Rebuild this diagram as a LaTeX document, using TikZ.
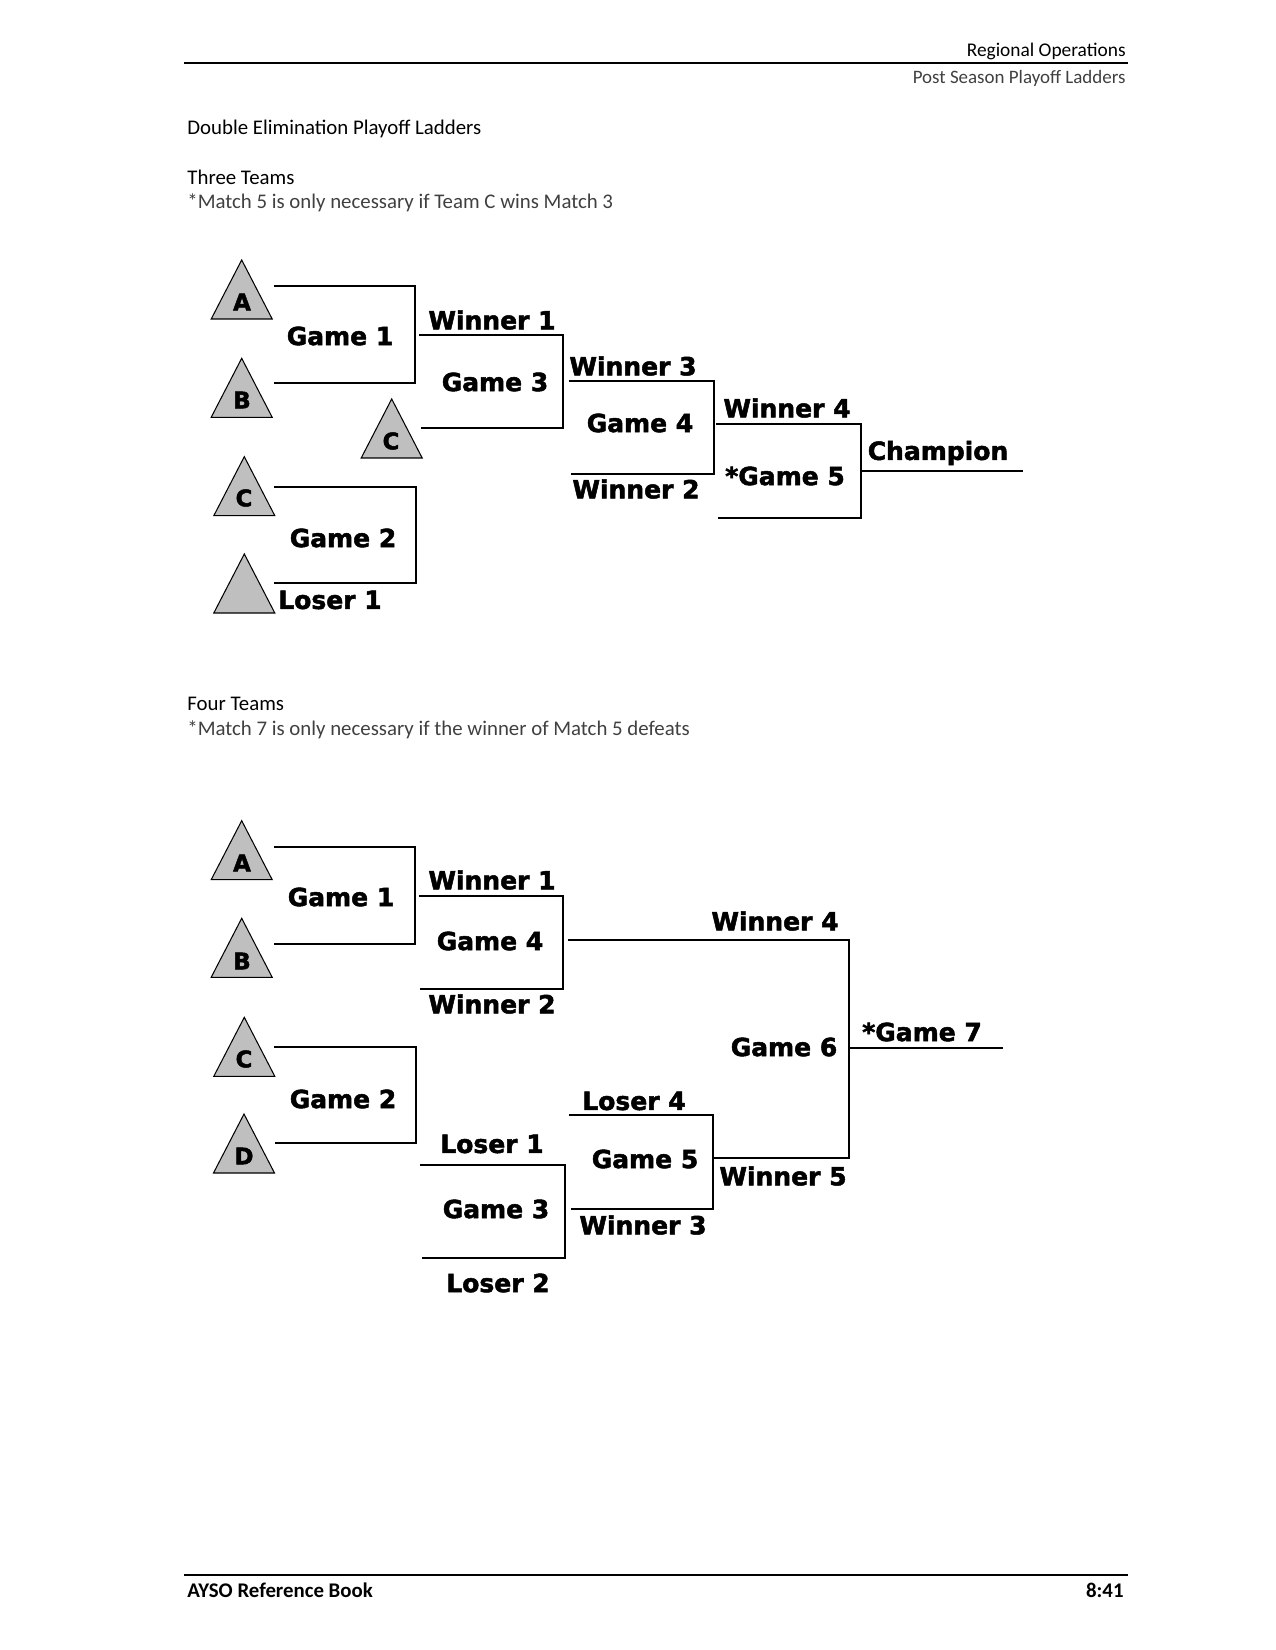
\documentclass[tikz,border=0pt]{standalone}
\usepackage{fontspec}
\setmainfont{Carlito}
\newfontfamily\lblfont[BoldFeatures={FakeBold=2}]{DejaVu Sans}
\begin{document}
\begin{tikzpicture}[x=0.48pt,y=-0.48pt,
  lbl/.style={font=\lblfont\bfseries\fontsize{12}{14}\selectfont, inner sep=0pt},
  tri/.style={draw=black, fill=black!25, line width=0.5pt, line join=miter},
  tletter/.style={font=\lblfont\bfseries\fontsize{11}{12}\selectfont, inner sep=0pt},
  brk/.style={draw=black, line width=0.75pt},
  hdr/.style={font=\fontsize{10}{12}\selectfont, inner sep=0pt},
  lighttxt/.style={hdr, text=black!75},
  teamtri/.pic={\draw[tri] (0,0) -- (-30.5,59) -- (30.5,59) -- cycle;}
]
\useasboundingbox (0,0) rectangle (1275,1650);

% ---------- header / footer ----------
\node[hdr, anchor=east, font=\fontsize{9.3}{11}\selectfont] (hreg) at (1126,51) {Regional Operations};
\coordinate (hl1) at (184,63);
\coordinate (hl2) at (1128,63);
\draw[line width=1.1pt] (hl1) -- (hl2);
\node[lighttxt, anchor=east, font=\fontsize{9.1}{11}\selectfont] (hpost) at (1126,78) {Post Season Playoff Ladders};
\node[hdr, anchor=west] (title) at (187,129) {Double Elimination Playoff Ladders};
\node[hdr, anchor=west] (three) at (187,177) {Three Teams};
\node[lighttxt, anchor=west] (note3) at (187,203) {*Match 5 is only necessary if Team C wins Match 3};
\node[hdr, anchor=west] (four) at (187,704) {Four Teams};
\node[lighttxt, anchor=west] (note4) at (187,730) {*Match 7 is only necessary if the winner of Match 5 defeats};
\coordinate (fl1) at (184,1575);
\coordinate (fl2) at (1128,1575);
\draw[line width=0.6pt] (fl1) -- (fl2);
\node[hdr, anchor=west, font=\bfseries\fontsize{10}{12}\selectfont] (foot) at (187,1590) {AYSO Reference Book};
\node[hdr, anchor=east, font=\bfseries\fontsize{10}{12}\selectfont] (page) at (1124,1590) {8:41};

% ---------- three teams ----------
\pic at (241.7,260) {teamtri};   \node[tletter] (tA3) at (242,302) {A};
\pic at (241.7,358.3) {teamtri}; \node[tletter] (tB3) at (242,400) {B};
\pic at (391.7,399) {teamtri};   \node[tletter] (tCm3) at (391,441) {C};
\pic at (244.3,456.7) {teamtri}; \node[tletter] (tC3) at (244,498) {C};
\pic at (244.3,554) {teamtri};

\coordinate (a1) at (274,286); \coordinate (a2) at (415,286);
\coordinate (a3) at (415,383); \coordinate (a4) at (274,383);
\draw[brk] (a1) -- (a2) -- (a3) -- (a4);

\coordinate (b1) at (419,335); \coordinate (b2) at (563,335);
\coordinate (b3) at (563,428); \coordinate (b4) at (421,428);
\draw[brk] (b1) -- (b2) -- (b3) -- (b4);

\coordinate (c1) at (569,381); \coordinate (c2) at (714,381);
\coordinate (c3) at (714,474); \coordinate (c4) at (571,474);
\draw[brk] (c1) -- (c2) -- (c3) -- (c4);

\coordinate (d1) at (716,424); \coordinate (d2) at (861,424);
\coordinate (d3) at (861,518); \coordinate (d4) at (718,518);
\draw[brk] (d1) -- (d2) -- (d3) -- (d4);

\coordinate (e1) at (861,471); \coordinate (e2) at (1023,471);
\draw[brk] (e1) -- (e2);

\coordinate (f1) at (274,487); \coordinate (f2) at (416,487);
\coordinate (f3) at (416,583); \coordinate (f4) at (274,583);
\draw[brk] (f1) -- (f2) -- (f3) -- (f4);

\node[lbl] (g13) at (340,336) {Game 1};
\node[lbl] (w13) at (492,320) {Winner 1};
\node[lbl] (g33) at (495,382) {Game 3};
\node[lbl] (w33) at (633,366) {Winner 3};
\node[lbl] (g43) at (640,423) {Game 4};
\node[lbl] (w23) at (636,489) {Winner 2};
\node[lbl] (w43) at (787,408) {Winner 4};
\node[lbl] (g53) at (785,476) {*Game 5};
\node[lbl] (champ) at (938,453) {Champion};
\node[lbl] (g23) at (343,538) {Game 2};
\node[lbl] (l13) at (330,600) {Loser 1};

% ---------- four teams ----------
\pic at (241.7,820.7) {teamtri}; \node[tletter] (tA4) at (242,863) {A};
\pic at (241.7,918.3) {teamtri}; \node[tletter] (tB4) at (242,961) {B};
\pic at (244.3,1017.3) {teamtri}; \node[tletter] (tC4) at (244,1059) {C};
\pic at (244,1114) {teamtri};    \node[tletter] (tD4) at (244,1156) {D};

\coordinate (p1) at (274,847); \coordinate (p2) at (415,847);
\coordinate (p3) at (415,944); \coordinate (p4) at (274,944);
\draw[brk] (p1) -- (p2) -- (p3) -- (p4);

\coordinate (q1) at (419,896); \coordinate (q2) at (563,896);
\coordinate (q3) at (563,989); \coordinate (q4) at (420,989);
\draw[brk] (q1) -- (q2) -- (q3) -- (q4);

\coordinate (r1) at (568,940); \coordinate (r2) at (849,940);
\coordinate (r3) at (849,1158); \coordinate (r4) at (713,1158);
\draw[brk] (r1) -- (r2) -- (r3) -- (r4);

\coordinate (s1) at (849,1048); \coordinate (s2) at (1003,1048);
\draw[brk] (s1) -- (s2);

\coordinate (t1) at (274,1047); \coordinate (t2) at (416,1047);
\coordinate (t3) at (416,1143); \coordinate (t4) at (275,1143);
\draw[brk] (t1) -- (t2) -- (t3) -- (t4);

\coordinate (u1) at (569,1115); \coordinate (u2) at (713,1115);
\coordinate (u3) at (713,1209); \coordinate (u4) at (571,1209);
\draw[brk] (u1) -- (u2) -- (u3) -- (u4);

\coordinate (v1) at (420,1165); \coordinate (v2) at (565,1165);
\coordinate (v3) at (565,1258); \coordinate (v4) at (422,1258);
\draw[brk] (v1) -- (v2) -- (v3) -- (v4);

\node[lbl] (g14) at (341,897) {Game 1};
\node[lbl] (w14) at (492,880) {Winner 1};
\node[lbl] (g44) at (490,941) {Game 4};
\node[lbl] (w24) at (492,1004) {Winner 2};
\node[lbl] (g24) at (343,1099) {Game 2};
\node[lbl] (w44) at (775,921) {Winner 4};
\node[lbl] (g64) at (784,1047) {Game 6};
\node[lbl] (g74) at (922,1032) {*Game 7};
\node[lbl] (l44) at (634,1101) {Loser 4};
\node[lbl] (g54) at (645,1159) {Game 5};
\node[lbl] (w54) at (783,1176) {Winner 5};
\node[lbl] (w34) at (643,1225) {Winner 3};
\node[lbl] (l14) at (492,1144) {Loser 1};
\node[lbl] (g34) at (496,1209) {Game 3};
\node[lbl] (l24) at (498,1283) {Loser 2};
\end{tikzpicture}
\end{document}
